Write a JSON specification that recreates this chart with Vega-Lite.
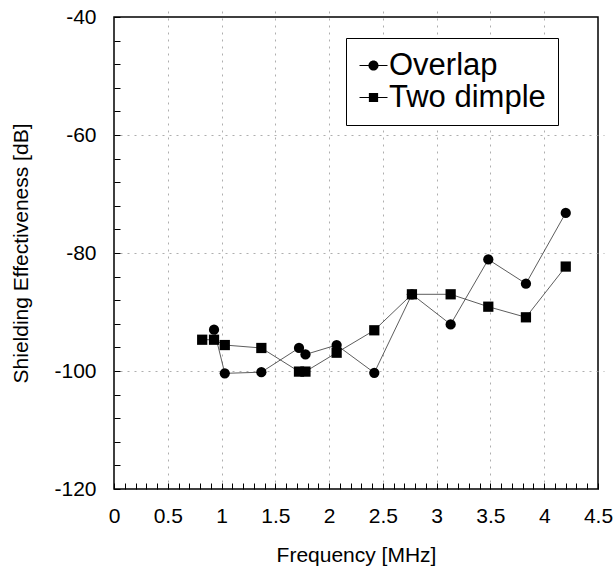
{
  "$schema": "https://vega.github.io/schema/vega-lite/v6.json",
  "autosize": {"type": "none"},
  "width": 484,
  "height": 472,
  "padding": {"left": 114, "top": 17, "right": 16, "bottom": 84},
  "background": "white",
  "config": {
    "view": {"stroke": "black", "strokeWidth": 1.5},
    "font": "Liberation Sans",
    "axis": {
      "labelFont": "Liberation Sans",
      "titleFont": "Liberation Sans",
      "labelColor": "black",
      "titleColor": "black",
      "titleFontWeight": "normal",
      "domain": false,
      "tickColor": "black",
      "tickWidth": 1,
      "tickSize": 6,
      "offset": -6,
      "gridColor": "#999999",
      "gridDash": [2, 5],
      "gridWidth": 0.8
    }
  },
  "data": {
    "values": [
      {"series": "Overlap", "f": 0.93, "se": -93.0},
      {"series": "Overlap", "f": 1.03, "se": -100.4},
      {"series": "Overlap", "f": 1.37, "se": -100.2},
      {"series": "Overlap", "f": 1.72, "se": -96.1},
      {"series": "Overlap", "f": 1.78, "se": -97.2},
      {"series": "Overlap", "f": 2.07, "se": -95.6},
      {"series": "Overlap", "f": 2.42, "se": -100.3},
      {"series": "Overlap", "f": 2.77, "se": -87.0},
      {"series": "Overlap", "f": 3.13, "se": -92.1},
      {"series": "Overlap", "f": 3.48, "se": -81.1},
      {"series": "Overlap", "f": 3.83, "se": -85.2},
      {"series": "Overlap", "f": 4.2, "se": -73.2},
      {"series": "Two dimple", "f": 0.82, "se": -94.7},
      {"series": "Two dimple", "f": 0.93, "se": -94.7},
      {"series": "Two dimple", "f": 1.03, "se": -95.6},
      {"series": "Two dimple", "f": 1.37, "se": -96.1},
      {"series": "Two dimple", "f": 1.72, "se": -100.1},
      {"series": "Two dimple", "f": 1.78, "se": -100.1},
      {"series": "Two dimple", "f": 2.07, "se": -96.9},
      {"series": "Two dimple", "f": 2.42, "se": -93.1},
      {"series": "Two dimple", "f": 2.77, "se": -87.0},
      {"series": "Two dimple", "f": 3.13, "se": -87.0},
      {"series": "Two dimple", "f": 3.48, "se": -89.1},
      {"series": "Two dimple", "f": 3.83, "se": -90.9},
      {"series": "Two dimple", "f": 4.2, "se": -82.3}
    ]
  },
  "encoding": {
    "x": {
      "field": "f",
      "type": "quantitative",
      "scale": {"domain": [0, 4.5], "nice": false, "zero": false},
      "axis": {
        "title": "Frequency [MHz]",
        "titleFontSize": 21,
        "titlePadding": 18,
        "labelFontSize": 21,
        "labelPadding": 16,
        "values": [0, 0.1, 0.2, 0.3, 0.4, 0.5, 0.6, 0.7, 0.8, 0.9, 1, 1.1, 1.2, 1.3, 1.4, 1.5, 1.6, 1.7, 1.8, 1.9, 2, 2.1, 2.2, 2.3, 2.4, 2.5, 2.6, 2.7, 2.8, 2.9, 3, 3.1, 3.2, 3.3, 3.4, 3.5, 3.6, 3.7, 3.8, 3.9, 4, 4.1, 4.2, 4.3, 4.4, 4.5],
        "labelExpr": "abs(datum.value*2 - round(datum.value*2)) < 0.001 ? format(datum.value, '~g') : ''",
        "labelOverlap": false,
        "labelFlush": false,
        "grid": true,
        "gridOpacity": {"condition": {"test": "abs(datum.value*2 - round(datum.value*2)) < 0.001 && datum.value > 0.01 && datum.value < 4.49", "value": 1}, "value": 0}
      }
    },
    "y": {
      "field": "se",
      "type": "quantitative",
      "scale": {"domain": [-120, -40], "nice": false, "zero": false},
      "axis": {
        "title": "Shielding Effectiveness [dB]",
        "titleFontSize": 21,
        "titlePadding": 22,
        "labelFontSize": 21,
        "labelPadding": 18,
        "values": [-120, -116, -112, -108, -104, -100, -96, -92, -88, -84, -80, -76, -72, -68, -64, -60, -56, -52, -48, -44, -40],
        "labelExpr": "datum.value % 20 === 0 ? '' + datum.value : ''",
        "labelOverlap": false,
        "labelFlush": false,
        "grid": true,
        "gridOpacity": {"condition": {"test": "datum.value % 20 === 0 && datum.value > -119 && datum.value < -41", "value": 1}, "value": 0}
      }
    }
  },
  "layer": [
    {
      "mark": {"type": "line", "color": "#333333", "strokeWidth": 0.8},
      "encoding": {"detail": {"field": "series"}, "order": {"field": "f"}}
    },
    {
      "mark": {"type": "point", "filled": true, "color": "black", "opacity": 1, "size": 105},
      "encoding": {
        "shape": {
          "field": "series",
          "type": "nominal",
          "scale": {"domain": ["Overlap", "Two dimple"], "range": ["circle", "square"]},
          "legend": null
        }
      }
    },
    {
      "transform": [{"filter": "false"}],
      "mark": {"type": "point", "filled": true, "color": "black", "opacity": 1},
      "encoding": {
        "shape": {
          "field": "series",
          "type": "nominal",
          "scale": {
            "domain": ["Overlap", "Two dimple"],
            "range": [
              "M-1,-0.04H-0.3V0.04H-1ZM0.3,-0.04H1V0.04H0.3ZM-0.36,0A0.36,0.36 0 1 1 0.36,0A0.36,0.36 0 1 1 -0.36,0Z",
              "M-1,-0.04H-0.3V0.04H-1ZM0.3,-0.04H1V0.04H0.3ZM-0.33,-0.33H0.33V0.33H-0.33Z"
            ]
          },
          "legend": {
            "orient": "none",
            "legendX": 232,
            "legendY": 21,
            "title": null,
            "labelFont": "Liberation Sans",
            "labelFontSize": 31,
            "labelColor": "black",
            "labelOffset": 0,
            "labelLimit": 400,
            "symbolSize": 784,
            "symbolFillColor": "black",
            "padding": 12,
            "rowPadding": 0,
            "strokeColor": "black",
            "fillColor": "white"
          }
        }
      }
    }
  ],
  "resolve": {"scale": {"shape": "independent"}}
}
